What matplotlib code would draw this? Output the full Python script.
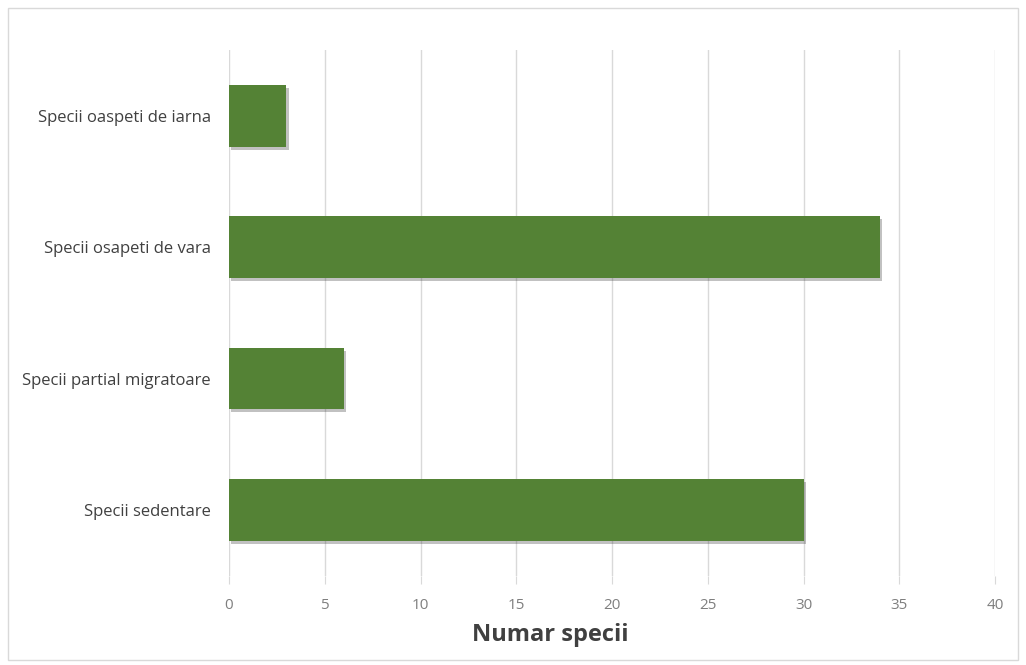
import matplotlib
matplotlib.use("Agg")
import matplotlib.pyplot as plt
import matplotlib.patheffects as pe
from matplotlib.patches import Rectangle

categories = ["Specii sedentare", "Specii partial migratoare",
              "Specii osapeti de vara", "Specii oaspeti de iarna"]
values = [30, 6, 34, 3]
xticks = [0, 5, 10, 15, 20, 25, 30, 35, 40]

plt.rcParams["font.family"] = ["Open Sans", "DejaVu Sans"]

fig = plt.figure(figsize=(10.26, 6.65), dpi=100)
ax = fig.add_axes([0.2232, 0.1344, 0.7466, 0.79])

bars = ax.barh(range(len(categories)), values, height=0.47,
               color="#548235", zorder=3)
for b in bars:
    b.set_path_effects([pe.SimplePatchShadow(offset=(1.5, -2),
                                             shadow_rgbFace="#333333",
                                             alpha=0.3),
                        pe.Normal()])

ax.set_xlim(0, 40)
ax.set_ylim(-0.5, 3.5)
ax.set_xticks(xticks)
ax.set_xticklabels([str(t) for t in xticks])
ax.set_yticks(range(len(categories)))
ax.set_yticklabels(categories)

ax.grid(axis="x", color="#d9d9d9", lw=1.0, zorder=0)
for s in ax.spines.values():
    s.set_visible(False)
ax.tick_params(axis="y", length=0, pad=13, labelsize=12, labelcolor="#404040")
ax.tick_params(axis="x", length=6, color="#d9d9d9", pad=10,
               labelsize=11, labelcolor="#7f7f7f")

ax.set_xlabel("Numar specii", fontsize=17, fontweight="bold",
              color="#404040")
ax.xaxis.set_label_coords(0.42, -0.09)

fig.patches.append(Rectangle((0.008, 0.008), 0.984, 0.98,
                             transform=fig.transFigure, fill=False,
                             edgecolor="#d9d9d9", lw=1.0))

fig.savefig("out.png", dpi=100)
